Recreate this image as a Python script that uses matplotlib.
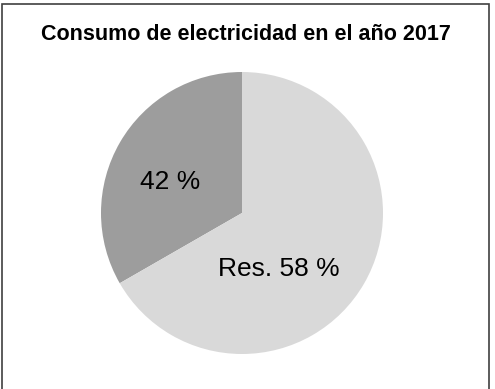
import matplotlib
matplotlib.use("Agg")
import matplotlib.pyplot as plt
import matplotlib.patches as mpatches

plt.rcParams["font.family"] = ["Liberation Sans", "DejaVu Sans"]

# slice sizes as drawn (dark wedge spans ~120 deg), and the printed labels
shares = [33.3, 66.7]
labels = ["42 %", "Res. 58 %"]
colors = ["#9d9d9d", "#d9d9d9"]
title = "Consumo de electricidad en el año 2017"

W, H = 4.95, 3.89
fig = plt.figure(figsize=(W, H), dpi=100)
fig.patch.set_facecolor("white")

# outer frame (bottom edge runs off the image, as in the original)
fig.add_artist(mpatches.Rectangle((2/495, -2/389), 487/495, 387/389,
               transform=fig.transFigure, fill=False,
               edgecolor="#404040", linewidth=1.2))

fig.text(246/495, 1 - 34/389, title, ha="center", va="center",
         fontsize=15.5, fontweight="bold", color="black")

ax = fig.add_axes([101/495, 1 - 354/389, 282/495, 282/389])
ax.pie(shares, colors=colors, startangle=90, counterclock=True,
       wedgeprops=dict(linewidth=0))
ax.set_aspect("equal")
ax.set_xlim(-1, 1); ax.set_ylim(-1, 1)

ax.text(-0.51, 0.22, labels[0], ha="center", va="center", fontsize=19)
ax.text(0.26, -0.40, labels[1], ha="center", va="center", fontsize=19)

plt.savefig("out.png", dpi=100, facecolor="white")
